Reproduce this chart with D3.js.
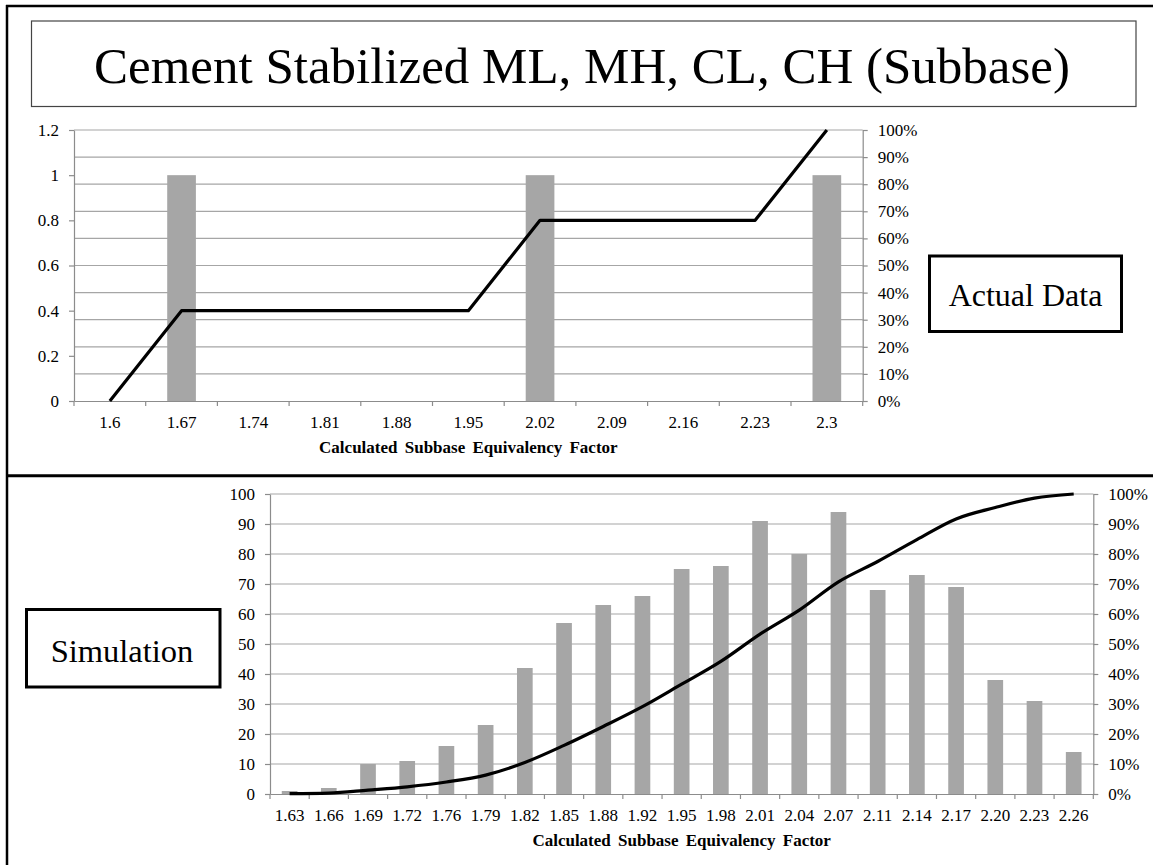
<!DOCTYPE html>
<html><head><meta charset="utf-8">
<script src="https://cdn.jsdelivr.net/npm/d3@7"></script>
<style>
body{margin:0;background:#fff}
svg{display:block;background:#fff}
text{font-family:"Liberation Serif","Times New Roman",Times,serif;fill:#000}
</style>
</head><body>
<svg id="c" width="1153" height="865"></svg>
<script>
// ---------- DATA ----------
const titleText = "Cement Stabilized ML, MH, CL, CH (Subbase)";
const axisTitle = "Calculated Subbase Equivalency Factor";

// Top panel: actual data
const actualCats = ["1.6","1.67","1.74","1.81","1.88","1.95","2.02","2.09","2.16","2.23","2.3"];
const actualCounts = [0,1,0,0,0,0,1,0,0,0,1];
const actualCumPct = [0,0.3333,0.3333,0.3333,0.3333,0.3333,0.6667,0.6667,0.6667,0.6667,1];
const actualLeftTicks = [0,0.2,0.4,0.6,0.8,1,1.2];
const actualLeftMax = 1.2;

// Bottom panel: simulation
const simCats = ["1.63","1.66","1.69","1.72","1.76","1.79","1.82","1.85","1.88","1.92","1.95",
                 "1.98","2.01","2.04","2.07","2.11","2.14","2.17","2.20","2.23","2.26"];
const simCounts = [1,2,10,11,16,23,42,57,63,66,75,76,91,80,94,68,73,69,38,31,14];
const simCumPct = [0.001,0.003,0.013,0.024,0.040,0.063,0.105,0.162,0.225,0.291,0.366,
                   0.442,0.533,0.613,0.707,0.775,0.848,0.917,0.955,0.986,1.0];
const simLeftTicks = [0,10,20,30,40,50,60,70,80,90,100];
const simLeftMax = 100;

const pctTicks = [0,0.1,0.2,0.3,0.4,0.5,0.6,0.7,0.8,0.9,1];

// ---------- DRAW ----------
const svg = d3.select("#c");
const GRID = "#a6a6a6", AXIS = "#8c8c8c", BAR = "#a6a6a6";

// outer frame lines
svg.append("line").attr("x1",7).attr("x2",7).attr("y1",5).attr("y2",865).attr("stroke","#000").attr("stroke-width",2.5);
svg.append("line").attr("x1",6).attr("x2",1153).attr("y1",6).attr("y2",6).attr("stroke","#000").attr("stroke-width",2.5);
svg.append("line").attr("x1",6).attr("x2",1153).attr("y1",475.7).attr("y2",475.7).attr("stroke","#000").attr("stroke-width",3);

// title box
svg.append("rect").attr("x",31.5).attr("y",21).attr("width",1104.5).attr("height",85.5)
  .attr("fill","#fff").attr("stroke","#444").attr("stroke-width",1.2);
svg.append("text").attr("x",582).attr("y",83).attr("text-anchor","middle")
  .style("font-size","51px").text(titleText);

function panel(o){
  const g = svg.append("g");
  const x = d3.scaleBand().domain(o.cats).range([o.x0,o.x1]).paddingInner(0).paddingOuter(0);
  const yL = d3.scaleLinear().domain([0,o.leftMax]).range([o.yBot,o.yTop]);
  const yR = d3.scaleLinear().domain([0,1]).range([o.yBot,o.yTop]);

  // gridlines (from secondary axis)
  g.append("g").selectAll("line").data(pctTicks.filter(d=>d>0)).join("line")
    .attr("x1",o.x0).attr("x2",o.x1)
    .attr("y1",d=>yR(d)).attr("y2",d=>yR(d))
    .attr("stroke",GRID).attr("stroke-width",1.2);

  // bars
  const bw = x.bandwidth()*0.4;
  g.append("g").selectAll("rect").data(o.counts).join("rect")
    .attr("x",(d,i)=>x(o.cats[i])+(x.bandwidth()-bw)/2)
    .attr("width",bw)
    .attr("y",d=>yL(d))
    .attr("height",d=>yL(0)-yL(d))
    .attr("fill",BAR);

  // left axis
  const la = g.append("g").attr("transform",`translate(${o.x0},0)`)
    .call(d3.axisLeft(yL).tickValues(o.leftTicks).tickSize(5).tickSizeOuter(0).tickPadding(10)
      .tickFormat(d3.format("~g")));
  // right axis
  const ra = g.append("g").attr("transform",`translate(${o.x1},0)`)
    .call(d3.axisRight(yR).tickValues(pctTicks).tickSize(5).tickSizeOuter(0).tickPadding(10)
      .tickFormat(d3.format(".0%")));
  // bottom axis (labels centered, ticks between categories)
  const ba = g.append("g").attr("transform",`translate(0,${o.yBot})`)
    .call(d3.axisBottom(x).tickSize(0).tickSizeOuter(0).tickPadding(14.5));
  const bounds = d3.range(o.cats.length+1).map(i=>o.x0+i*x.step());
  ba.append("g").selectAll("line").data(bounds).join("line")
    .attr("x1",d=>d).attr("x2",d=>d).attr("y1",0).attr("y2",5)
    .attr("stroke",AXIS).attr("stroke-width",1.2);

  [la,ra,ba].forEach(a=>{
    a.select(".domain").attr("stroke",AXIS).attr("stroke-width",1.2);
    a.selectAll(".tick line").attr("stroke",AXIS).attr("stroke-width",1.2);
    a.selectAll("text").style("font-size","17px")
      .style("font-family",'"Liberation Serif","Times New Roman",Times,serif').attr("fill","#000");
  });

  // cumulative line
  const line = d3.line()
    .x((d,i)=>x(o.cats[i])+x.bandwidth()/2)
    .y(d=>yR(d))
    .curve(o.curve);
  g.append("path").datum(o.cum).attr("d",line)
    .attr("fill","none").attr("stroke","#000").attr("stroke-width",3.2)
    .attr("stroke-linejoin","round").attr("stroke-linecap","butt");

  // axis title
  g.append("text").attr("x",(o.x0+o.x1)/2).attr("y",o.yBot+51.5)
    .attr("text-anchor","middle").style("font-size","17px").style("font-weight","bold")
    .style("word-spacing","3px").text(axisTitle);
}

panel({cats:actualCats,counts:actualCounts,cum:actualCumPct,leftMax:actualLeftMax,
  leftTicks:actualLeftTicks,x0:74,x1:862.7,yTop:130,yBot:401,curve:d3.curveLinear});
panel({cats:simCats,counts:simCounts,cum:simCumPct,leftMax:simLeftMax,
  leftTicks:simLeftTicks,x0:270,x1:1093.3,yTop:494,yBot:794,curve:d3.curveMonotoneX});

// labels boxes
function labelBox(x,y,w,h,txt,size,tx,ty){
  svg.append("rect").attr("x",x).attr("y",y).attr("width",w).attr("height",h)
    .attr("fill","#fff").attr("stroke","#000").attr("stroke-width",3);
  svg.append("text").attr("x",tx).attr("y",ty).attr("text-anchor","middle")
    .style("font-size",size+"px").text(txt);
}
labelBox(929.5,256,192,75.5,"Actual Data",32,1025.5,306);
labelBox(26.5,609.5,193.5,77.5,"Simulation",32.5,122,661.5);
</script>
</body></html>
